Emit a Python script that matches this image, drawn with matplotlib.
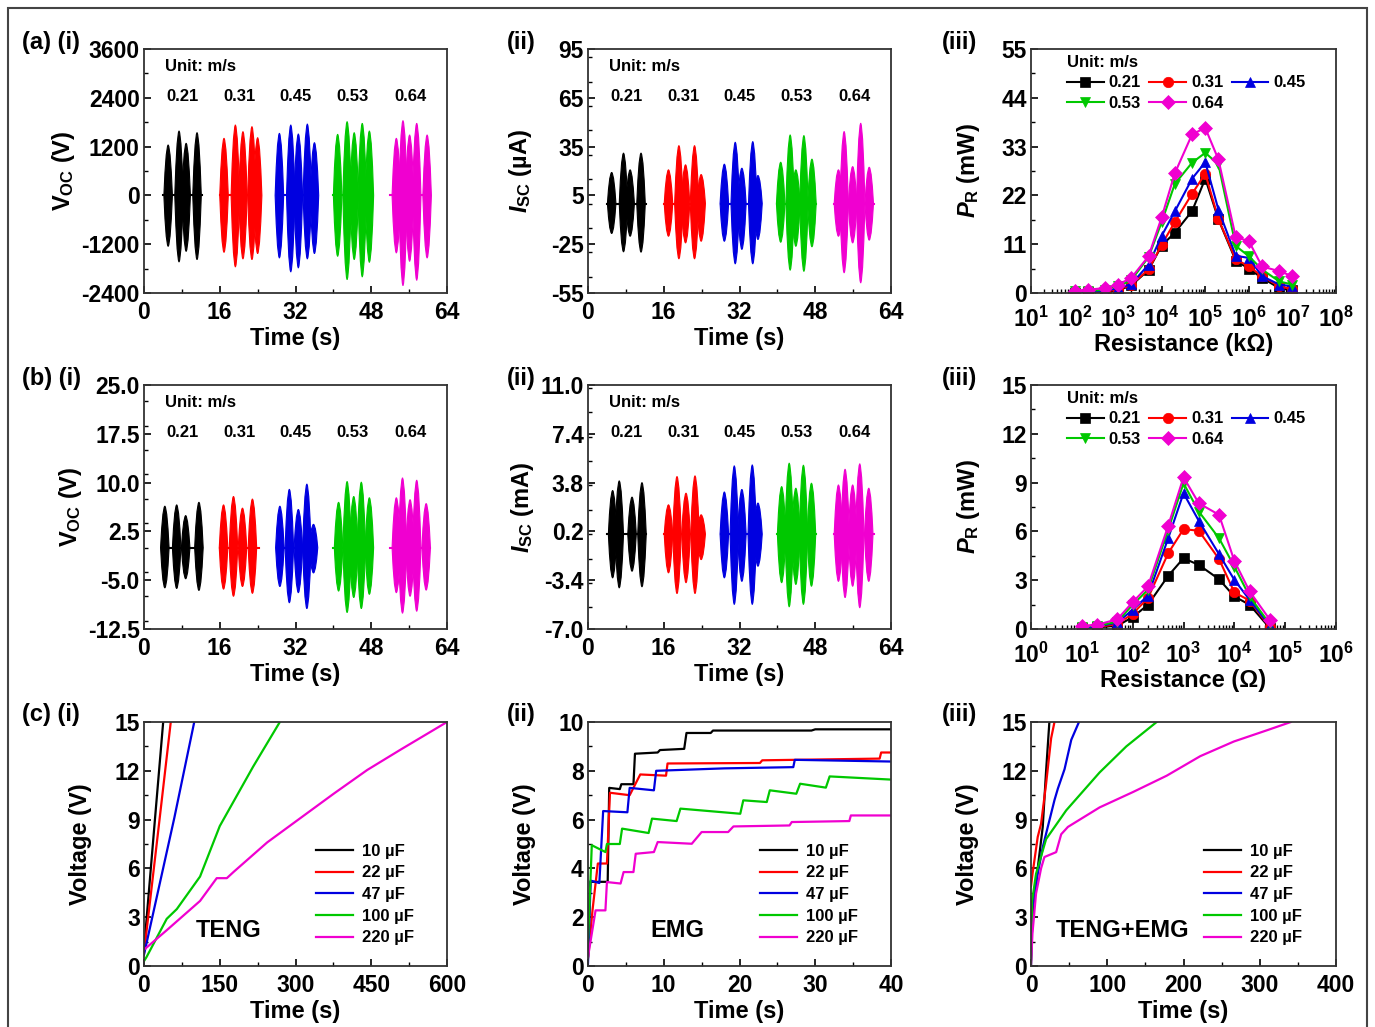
import numpy as np
import matplotlib
matplotlib.use('Agg')
import matplotlib.pyplot as plt
from matplotlib.ticker import MultipleLocator, FuncFormatter, LogLocator, NullFormatter, FormatStrFormatter
from matplotlib.patches import Polygon, Rectangle

W, H = 1375, 1027

plt.rcParams['font.family'] = ['Liberation Sans', 'DejaVu Sans']
plt.rcParams['font.weight'] = 'bold'
plt.rcParams['axes.labelweight'] = 'bold'
plt.rcParams['mathtext.fontset'] = 'custom'
plt.rcParams['mathtext.rm'] = 'Liberation Sans:bold'
plt.rcParams['mathtext.bf'] = 'Liberation Sans:bold'
plt.rcParams['mathtext.it'] = 'Liberation Sans:italic:bold'
plt.rcParams['axes.linewidth'] = 1.3
plt.rcParams['axes.edgecolor'] = '#333333'
plt.rcParams['xtick.direction'] = 'in'
plt.rcParams['ytick.direction'] = 'in'
plt.rcParams['xtick.major.size'] = 5
plt.rcParams['ytick.major.size'] = 5
plt.rcParams['xtick.minor.size'] = 3
plt.rcParams['ytick.minor.size'] = 3
plt.rcParams['xtick.major.width'] = 1.2
plt.rcParams['ytick.major.width'] = 1.2
plt.rcParams['xtick.minor.width'] = 1.0
plt.rcParams['ytick.minor.width'] = 1.0

# --- common labels / colours ---
COLORS = ['#000000', '#FF0000', '#0000E0', '#00C800', '#F000D0']
SPEEDS = ['0.21', '0.31', '0.45', '0.53', '0.64']
MARKERS = ['s', 'o', '^', 'v', 'D']
CAPS = ['10 µF', '22 µF', '47 µF', '100 µF', '220 µF']

# --- (a)/(b) output waveforms: burst spans and spindle envelopes ---
BURST_START = [4.0, 16.0, 28.0, 40.0, 52.0]
BURST_END = [12.2, 24.2, 36.2, 48.2, 60.4]

a1_centers = [[5.1, 7.4, 8.9, 11.2], [16.9, 19.3, 20.9, 22.8, 24.0], [28.6, 31.0, 32.6, 34.5, 36.0],
              [40.9, 42.9, 44.4, 46.1, 47.6], [53.3, 54.7, 56.1, 57.6, 59.8]]
a1_tops = [[1244, 1588, 1286, 1547], [1409, 1736, 1572, 1695, 1424], [1532, 1736, 1515, 1760, 1301],
           [1507, 1818, 1547, 1777, 1588], [1409, 1842, 1490, 1777, 1490]]
a1_bots = [[-1256, -1640, -1380, -1583], [-1404, -1763, -1566, -1583, -1436], [-1543, -1886, -1788, -1566, -1436],
           [-1502, -2075, -1583, -2009, -1650], [-1419, -2223, -1625, -2092, -1543]]

a2_centers = [[5.0, 7.5, 8.9, 11.2], [17.0, 19.2, 20.6, 22.5, 23.9], [28.8, 31.1, 32.5, 34.8, 35.9],
              [40.7, 42.7, 43.9, 45.6, 47.3], [52.9, 54.1, 55.9, 57.6, 59.4]]
a2_tops = [[19.2, 31.1, 20.8, 31.1], [20.8, 35.7, 23.9, 35.7, 17.9], [24.3, 37.8, 21.8, 38.2, 17.3],
           [25.5, 42.3, 20.8, 41.9, 27.4], [20.8, 44.4, 22.8, 49.5, 22.4]]
a2_bots = [[-18.5, -29.8, -20.2, -30.0], [-20.2, -34.1, -24.3, -34.1, -23.3], [-23.3, -37.2, -28.3, -37.2, -22.2],
           [-23.9, -41.1, -26.4, -41.8, -26.7], [-20.2, -42.7, -24.3, -48.9, -22.6]]

b1_centers = [[4.4, 6.9, 8.8, 11.6], [16.8, 18.9, 20.8, 22.9], [28.7, 30.7, 32.6, 34.4, 35.8],
              [41.1, 42.9, 44.3, 45.9, 47.6], [53.3, 54.6, 56.2, 57.6, 59.6]]
b1_tops = [[6.4, 6.6, 4.95, 7.0], [6.6, 7.9, 6.1, 7.5], [6.4, 9.0, 5.9, 9.8, 3.6],
           [7.0, 10.2, 7.9, 10.1, 7.7], [7.7, 10.75, 7.4, 10.4, 6.8]]
b1_bots = [[-6.2, -6.3, -4.8, -6.6], [-6.4, -7.5, -6.0, -7.05], [-6.0, -8.5, -6.95, -9.4, -3.9],
           [-6.7, -10.0, -7.7, -9.4, -7.2], [-6.95, -10.1, -7.5, -9.8, -6.55]]

b2_centers = [[5.2, 6.6, 9.3, 11.4], [17.0, 18.8, 20.7, 22.6, 23.9], [28.8, 30.9, 32.5, 34.7, 35.9],
              [40.9, 42.5, 43.9, 45.5, 47.2], [52.9, 54.3, 55.9, 57.4, 59.3]]
b2_tops = [[3.23, 3.94, 2.74, 3.81], [2.17, 4.26, 3.03, 4.31, 1.43], [3.12, 5.05, 3.31, 5.12, 2.3],
           [3.52, 5.25, 3.40, 5.1, 3.77], [3.64, 4.8, 3.64, 5.2, 3.4]]
b2_bots = [[-3.24, -3.98, -2.75, -3.9], [-2.87, -4.4, -3.6, -4.4, -1.89], [-3.24, -5.2, -3.5, -5.2, -2.38],
           [-3.6, -5.38, -3.73, -5.2, -3.86], [-3.5, -4.7, -3.86, -5.45, -3.5]]

# --- (a)(iii) power vs resistance (kOhm) ---
a3_res = [1e2, 2e2, 5e2, 1e3, 2e3, 5e3, 1e4, 2e4, 5e4, 1e5, 2e5, 5e5, 1e6, 2e6, 5e6, 1e7]
a3_p = [
    [0.1, 0.2, 0.3, 0.6, 1.7, 5.2, 10.7, 13.6, 18.5, 25.8, 16.6, 7.3, 5.5, 3.4, 1.1, 0.6],
    [0.1, 0.2, 0.4, 0.75, 1.9, 5.3, 10.9, 16.0, 22.4, 26.9, 16.7, 7.6, 6.0, 3.8, 1.5, 0.9],
    [0.2, 0.3, 0.5, 1.1, 2.0, 6.4, 12.9, 18.4, 25.8, 29.5, 18.8, 8.4, 7.9, 3.8, 1.9, 1.5],
    [0.4, 0.5, 0.7, 1.5, 2.9, 8.1, 16.0, 24.6, 29.4, 31.6, 29.0, 10.6, 8.3, 5.3, 2.6, 1.9],
    [0.5, 0.75, 1.1, 1.9, 3.4, 8.3, 17.1, 27.0, 35.8, 37.2, 30.1, 12.6, 11.7, 6.0, 4.9, 3.8],
]

# --- (b)(iii) power vs resistance (Ohm) ---
b3_res = [1e1, 2e1, 5e1, 1e2, 2e2, 5e2, 1e3, 2e3, 5e3, 1e4, 2e4, 5e4]
b3_p = [
    [0.05, 0.1, 0.2, 0.73, 1.49, 3.27, 4.35, 3.94, 3.06, 2.0, 1.49, 0.05],
    [0.1, 0.12, 0.3, 0.94, 1.9, 4.66, 6.14, 6.04, 4.3, 2.25, 1.75, 0.1],
    [0.1, 0.15, 0.4, 1.18, 2.05, 5.58, 8.35, 6.65, 4.6, 3.02, 1.79, 0.2],
    [0.15, 0.2, 0.45, 1.49, 2.41, 6.1, 8.96, 7.22, 5.58, 3.84, 2.0, 0.3],
    [0.2, 0.26, 0.6, 1.65, 2.62, 6.35, 9.33, 7.73, 7.02, 4.19, 2.31, 0.57],
]

# --- (c) capacitor charging curves ---
c1_t = [[0, 10, 20, 38], [0, 15, 30, 53], [0, 30, 60, 99.5],
        [0, 5, 45, 65, 111, 150, 216, 269],
        [0, 45, 111, 144, 164, 178, 244, 310, 376, 442, 508, 600]]
c1_v = [[1.0, 4.7, 8.4, 15.0], [0.8, 4.8, 8.8, 15.0], [0.7, 4.9, 9.1, 15.0],
        [0.3, 0.55, 2.9, 3.5, 5.5, 8.6, 12.25, 15.0],
        [1.0, 2.2, 4.0, 5.4, 5.4, 5.8, 7.6, 9.1, 10.6, 12.05, 13.3, 15.0]]

c2_t = [[0, 0.3, 2.6, 2.8, 4.2, 4.4, 6.0, 6.2, 9.2, 9.5, 12.7, 13.0, 16.2, 16.5, 29.5, 30.0, 40],
        [0, 0.6, 1.3, 2.5, 2.9, 5.5, 6.9, 10.3, 10.5, 22.7, 23.0, 38.5, 38.7, 40],
        [0, 0.35, 1.5, 2.0, 5.2, 5.5, 8.7, 9.0, 18.0, 27.1, 27.3, 40],
        [0, 0.5, 2.3, 2.5, 4.2, 4.5, 8.0, 8.45, 11.7, 12.2, 20.1, 20.5, 23.6, 24.0, 27.5, 28.0, 31.4, 31.9, 40],
        [0, 1.0, 2.3, 2.5, 4.3, 4.7, 6.0, 6.3, 8.7, 9.2, 13.7, 15.0, 18.5, 19.2, 26.6, 26.9, 34.5, 34.7, 40]]
c2_v = [[0.4, 3.45, 3.45, 7.3, 7.25, 7.45, 7.45, 8.7, 8.75, 8.85, 8.9, 9.55, 9.55, 9.65, 9.65, 9.7, 9.7],
        [0.3, 2.3, 4.2, 4.2, 7.1, 7.0, 7.85, 7.8, 8.3, 8.32, 8.43, 8.5, 8.75, 8.75],
        [0.1, 3.5, 3.4, 6.35, 6.3, 7.3, 7.2, 8.0, 8.1, 8.15, 8.45, 8.38],
        [0.9, 4.95, 4.67, 5.0, 5.0, 5.63, 5.45, 6.04, 5.94, 6.45, 6.24, 6.79, 6.72, 7.2, 7.06, 7.47, 7.31, 7.77, 7.64],
        [0.37, 2.28, 2.28, 3.44, 3.38, 3.85, 3.85, 4.6, 4.67, 5.08, 5.01, 5.49, 5.49, 5.72, 5.76, 5.9, 5.94, 6.17, 6.17]]

c3_t = [[0, 1.9, 8.8, 15.4, 19.8, 24.1],
        [0, 2.0, 8.8, 13.2, 19.8, 26.4, 30.8],
        [0, 1.9, 8.8, 15.4, 22.0, 30.8, 35.2, 44.0, 52.8, 62.9],
        [0, 1.5, 6.6, 19.8, 46.2, 90.0, 125.0, 164.8],
        [0, 1.9, 6.6, 13.2, 17.6, 33.0, 39.6, 48.4, 90.0, 134.0, 178.0, 222.0, 266.0, 310.0, 340.8]]
c3_v = [[0.4, 3.0, 6.0, 8.55, 12.0, 15.0],
        [4.9, 5.67, 7.93, 8.74, 11.2, 14.0, 15.0],
        [0.1, 3.6, 5.67, 7.3, 8.55, 10.2, 10.9, 12.1, 13.9, 15.0],
        [0.0, 4.0, 5.67, 7.8, 9.57, 11.9, 13.5, 15.0],
        [0.0, 2.0, 4.45, 6.0, 6.7, 7.0, 8.1, 8.55, 9.75, 10.7, 11.7, 12.9, 13.8, 14.5, 15.0]]

# spindle outline template (shape only)
SP_HW = 0.9
SP_OFF = np.array([-1, -0.75, -0.45, -0.15, 0, 0.15, 0.45, 0.75, 1])
SP_PROF = np.array([0, 0.45, 0.8, 0.97, 1, 0.97, 0.8, 0.45, 0])

TICK_FS = 16.5
LABEL_FS = 17
ANN_FS = 12


def px_axes(fig, left, top, right, bottom):
    return fig.add_axes([left / W, 1 - bottom / H, (right - left) / W, (bottom - top) / H])


def style_ax(ax, xpad=6):
    ax.tick_params(labelsize=TICK_FS, which='both', top=False, right=False)
    ax.tick_params(axis='x', pad=xpad)
    ax.tick_params(axis='y', pad=3)
    for lab in ax.get_xticklabels() + ax.get_yticklabels():
        lab.set_fontweight('bold')


def draw_bursts(ax, centers, tops, bots, ylim, yticks, fmt, ylabel, ypad):
    for i in range(5):
        c = COLORS[i]
        ax.plot([BURST_START[i], BURST_END[i]], [0, 0], color=c, lw=1.5, zorder=2)
        for tc, tp, bt in zip(centers[i], tops[i], bots[i]):
            xs = tc + SP_OFF * SP_HW
            poly = np.column_stack([np.concatenate([xs, xs[::-1]]),
                                    np.concatenate([tp * SP_PROF, (bt * SP_PROF)[::-1]])])
            ax.add_patch(Polygon(poly, closed=True, facecolor=c, edgecolor=c, lw=0.8, zorder=3))
        ax.text((BURST_START[i] + BURST_END[i]) / 2, 0.805, SPEEDS[i], transform=ax.get_xaxis_transform(),
                ha='center', va='center', fontsize=ANN_FS, fontweight='bold')
    ax.text(0.07, 0.93, 'Unit: m/s', transform=ax.transAxes, ha='left', va='center',
            fontsize=ANN_FS, fontweight='bold')
    ax.set_xlim(0, 64)
    ax.set_ylim(*ylim)
    ax.set_xticks([0, 16, 32, 48, 64])
    ax.xaxis.set_minor_locator(MultipleLocator(8))
    ax.set_yticks(yticks)
    ax.yaxis.set_minor_locator(MultipleLocator((yticks[1] - yticks[0]) / 2))
    ax.yaxis.set_major_formatter(FormatStrFormatter(fmt))
    ax.set_xlabel('Time (s)', fontsize=LABEL_FS, labelpad=2)
    ax.set_ylabel(ylabel, fontsize=LABEL_FS, labelpad=ypad)
    style_ax(ax)


def log_fmt(v, pos):
    return r'$\mathrm{10^{%d}}$' % int(round(np.log10(v)))


def draw_power(ax, res, pw, xlim, ylim, ystep, xlabel):
    handles = []
    for i in range(5):
        h, = ax.plot(res, pw[i], color=COLORS[i], marker=MARKERS[i], ms=7.5 if MARKERS[i] != 'D' else 7,
                     lw=1.5, markeredgewidth=0.5)
        handles.append(h)
    ax.set_xscale('log')
    ax.set_xlim(*xlim)
    ax.set_ylim(*ylim)
    ax.xaxis.set_major_locator(LogLocator(base=10, numticks=20))
    ax.xaxis.set_minor_locator(LogLocator(base=10, subs=np.arange(2, 10), numticks=20))
    ax.xaxis.set_minor_formatter(NullFormatter())
    ax.xaxis.set_major_formatter(FuncFormatter(log_fmt))
    ax.yaxis.set_major_locator(MultipleLocator(ystep))
    ax.yaxis.set_minor_locator(MultipleLocator(ystep / 2))
    ax.set_xlabel(xlabel, fontsize=LABEL_FS, labelpad=1)
    ax.set_ylabel(r'$\mathit{P}_{\mathrm{R}}$ (mW)', fontsize=LABEL_FS, labelpad=14)
    order = [0, 3, 1, 4, 2]
    ax.legend([handles[k] for k in order], [SPEEDS[k] for k in order], ncol=3,
              loc='upper left', bbox_to_anchor=(0.08, 1.025), frameon=False,
              title='Unit: m/s', title_fontproperties={'weight': 'bold', 'size': ANN_FS},
              prop={'weight': 'bold', 'size': ANN_FS}, alignment='left',
              handlelength=2.2, handletextpad=0.3, columnspacing=0.5, labelspacing=0.35,
              borderpad=0.2)
    style_ax(ax, xpad=10)


def draw_charge(ax, ts, vs, xlim, xstep, ylim, ystep, tag, tag_xy):
    for i in range(5):
        ax.plot(ts[i], vs[i], color=COLORS[i], lw=1.6, label=CAPS[i])
    ax.set_xlim(*xlim)
    ax.set_ylim(*ylim)
    ax.xaxis.set_major_locator(MultipleLocator(xstep))
    ax.xaxis.set_minor_locator(MultipleLocator(xstep / 2))
    ax.yaxis.set_major_locator(MultipleLocator(ystep))
    ax.yaxis.set_minor_locator(MultipleLocator(ystep / 2))
    ax.set_xlabel('Time (s)', fontsize=LABEL_FS, labelpad=2)
    ax.set_ylabel('Voltage (V)', fontsize=LABEL_FS, labelpad=16)
    ax.text(tag_xy[0], tag_xy[1], tag, transform=ax.transAxes, ha='center', va='center',
            fontsize=LABEL_FS, fontweight='bold')
    ax.legend(loc='upper left', bbox_to_anchor=(0.54, 0.535), frameon=False,
              prop={'weight': 'bold', 'size': ANN_FS}, handlelength=2.2, handletextpad=0.55,
              labelspacing=0.4, borderpad=0)
    style_ax(ax)


fig = plt.figure(figsize=(W / 100, H / 100), dpi=100)

cols = [(144, 447), (588, 891), (1031, 1336)]
rows = [(49, 293), (385, 629), (722, 966)]

ax = px_axes(fig, cols[0][0], rows[0][0], cols[0][1], rows[0][1])
draw_bursts(ax, a1_centers, a1_tops, a1_bots, (-2400, 3600), [-2400, -1200, 0, 1200, 2400, 3600], '%d',
            r'$\mathrm{V}_{\mathrm{OC}}$ (V)', 3)
ax = px_axes(fig, cols[1][0], rows[0][0], cols[1][1], rows[0][1])
draw_bursts(ax, a2_centers, a2_tops, a2_bots, (-55, 95), [-55, -25, 5, 35, 65, 95], '%d',
            r'$\mathit{I}_{\mathrm{SC}}$ (µA)', 12)
ax = px_axes(fig, cols[2][0], rows[0][0], cols[2][1], rows[0][1])
draw_power(ax, a3_res, a3_p, (10, 1e8), (0, 55), 11, 'Resistance (kΩ)')

ax = px_axes(fig, cols[0][0], rows[1][0], cols[0][1], rows[1][1])
draw_bursts(ax, b1_centers, b1_tops, b1_bots, (-12.5, 25), [-12.5, -5.0, 2.5, 10.0, 17.5, 25.0], '%.1f',
            r'$\mathrm{V}_{\mathrm{OC}}$ (V)', 3)
ax = px_axes(fig, cols[1][0], rows[1][0], cols[1][1], rows[1][1])
draw_bursts(ax, b2_centers, b2_tops, b2_bots, (-7.0, 11.0), [-7.0, -3.4, 0.2, 3.8, 7.4, 11.0], '%.1f',
            r'$\mathit{I}_{\mathrm{SC}}$ (mA)', 3)
ax = px_axes(fig, cols[2][0], rows[1][0], cols[2][1], rows[1][1])
draw_power(ax, b3_res, b3_p, (1, 1e6), (0, 15), 3, 'Resistance (Ω)')

ax = px_axes(fig, cols[0][0], rows[2][0], cols[0][1], rows[2][1])
draw_charge(ax, c1_t, c1_v, (0, 600), 150, (0, 15), 3, 'TENG', (0.28, 0.145))
ax = px_axes(fig, cols[1][0], rows[2][0], cols[1][1], rows[2][1])
draw_charge(ax, c2_t, c2_v, (0, 40), 10, (0, 10), 2, 'EMG', (0.295, 0.145))
ax = px_axes(fig, cols[2][0], rows[2][0], cols[2][1], rows[2][1])
draw_charge(ax, c3_t, c3_v, (0, 400), 100, (0, 15), 3, 'TENG+EMG', (0.3, 0.145))

# panel tags
for y, row in zip([42, 378, 715], ['(a)', '(b)', '(c)']):
    fig.text(22 / W, 1 - y / H, row + ' (i)', fontsize=LABEL_FS, fontweight='bold', va='center')
    fig.text(507 / W, 1 - y / H, '(ii)', fontsize=LABEL_FS, fontweight='bold', va='center')
    fig.text(942 / W, 1 - y / H, '(iii)', fontsize=LABEL_FS, fontweight='bold', va='center')

# outer frame
fig.patches.append(Rectangle((8 / W, -0.01), (1367 - 8) / W, 1.01 - 8 / H, transform=fig.transFigure,
                             fill=False, edgecolor='#444444', lw=1.5))

fig.savefig('out.png', dpi=100, facecolor='white')
